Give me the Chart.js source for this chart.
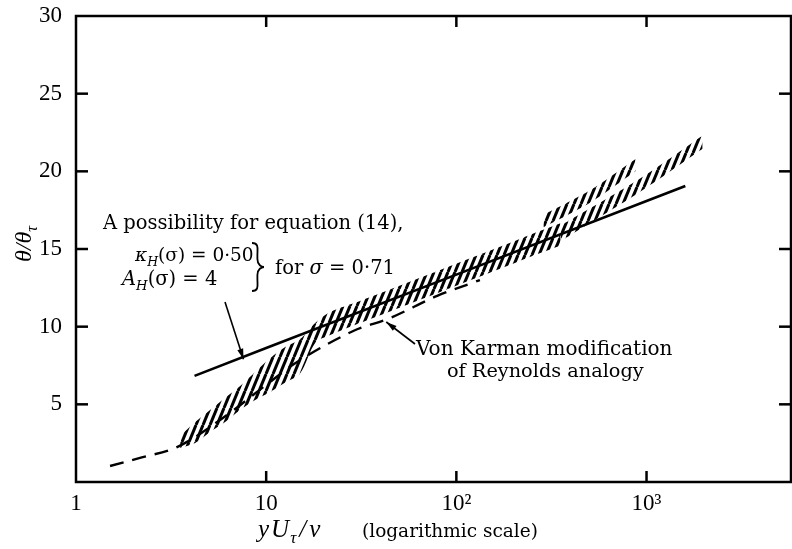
<!DOCTYPE html>
<html><head><meta charset="utf-8">
<script src="https://cdn.jsdelivr.net/npm/chart.js@4/dist/chart.umd.min.js"></script>
<style>html,body{margin:0;padding:0;background:#fff}#wrap{width:792px;height:549px}</style>
</head><body><div id="wrap"><canvas id="c" width="792" height="549"></canvas></div>
<script>
// ---------- data ----------
const xTicks = [1, 10, 100, 1000];
const xTickLabels = ['1', '10', '10²', '10³'];
const yTicks = [5, 10, 15, 20, 25, 30];

// solid line: "A possibility for equation (14)"
const solidX = [4.2, 10, 100, 1000, 1600];
const solidY = [6.83, 8.63, 13.35, 18.09, 19.06];

// dashed line: Von Karman modification of Reynolds analogy
const vkX = [1.51, 2.17, 3.4, 5.72, 10, 15.1, 28.7, 44.9, 79.3, 133];
const vkY = [1.03, 1.55, 2.25, 3.99, 6.25, 7.86, 9.72, 10.56, 11.98, 13.0];

// hatched band of experimental data (main part)
const bandX  = [3.53, 4.23, 5.07, 6.08, 7.30, 8.75, 10.5, 12.6, 15.1, 18.1, 21.7, 31.2, 50.7, 93, 171, 245, 353];
const bandLo = [2.19, 2.51, 3.22, 3.86, 4.64, 5.28, 5.80, 6.40, 7.00, 8.95, 9.47, 10.24, 11.24, 12.49, 13.74, 14.5, 15.23];
const bandHi = [2.96, 3.86, 4.64, 5.41, 6.18, 7.08, 7.98, 8.69, 9.20, 10.24, 10.95, 11.66, 12.65, 13.91, 15.16, 15.92, 16.65];
// upper branch
const upX  = [287, 507, 876];
const upLo = [16.4, 18.0, 20.0];
const upHi = [17.2, 18.8, 20.8];
// lower branch
const lowX  = [353, 930, 1972];
const lowLo = [15.5, 18.7, 21.45];
const lowHi = [16.5, 19.55, 22.3];

// ---------- helpers ----------
const pts = (xs, ys) => xs.map((x, i) => ({x, y: ys[i]}));
const hatch = (() => {
  const c = document.createElement('canvas'); c.width = 7; c.height = 17;
  const g = c.getContext('2d'); g.strokeStyle = '#000'; g.lineWidth = 3;
  for (const o of [-7, 0, 7]) { g.beginPath(); g.moveTo(o, 17); g.lineTo(o + 7, 0); g.stroke(); }
  return g.createPattern(c, 'repeat');
})();
const TICKF = '"Liberation Serif", serif';
const TEXTF = '"DejaVu Serif", "Liberation Serif", serif';
const edge = (d) => Object.assign({showLine: true, borderWidth: 0, borderColor: 'transparent', pointRadius: 0, tension: 0.3}, d);

function runs(ctx, x, y, parts, size, fam) {
  let cx = x;
  for (const p of parts) {
    const s = p.sub ? size * 0.68 : size;
    ctx.font = (p.it ? 'italic ' : '') + s + 'px ' + (fam || TEXTF);
    ctx.fillText(p.t, cx, y + (p.sub ? size * 0.25 : 0));
    cx += ctx.measureText(p.t).width + (p.gap || 0);
  }
  return cx;
}
function arrow(ctx, x0, y0, x1, y1) {
  ctx.beginPath(); ctx.moveTo(x0, y0); ctx.lineTo(x1, y1); ctx.lineWidth = 1.6; ctx.stroke();
  const a = Math.atan2(y1 - y0, x1 - x0), L = 11, w = 0.28;
  ctx.beginPath(); ctx.moveTo(x1, y1);
  ctx.lineTo(x1 - L * Math.cos(a - w), y1 - L * Math.sin(a - w));
  ctx.lineTo(x1 - L * Math.cos(a + w), y1 - L * Math.sin(a + w));
  ctx.closePath(); ctx.fill();
}
function brace(ctx, x, top, bot, w) {
  const m = (top + bot) / 2;
  ctx.beginPath();
  ctx.moveTo(x, top);
  ctx.bezierCurveTo(x + w * 0.6, top, x + w * 0.45, top + 6, x + w * 0.45, top + 12);
  ctx.lineTo(x + w * 0.45, m - 8);
  ctx.bezierCurveTo(x + w * 0.45, m - 2, x + w * 0.8, m, x + w, m);
  ctx.bezierCurveTo(x + w * 0.8, m, x + w * 0.45, m + 2, x + w * 0.45, m + 8);
  ctx.lineTo(x + w * 0.45, bot - 12);
  ctx.bezierCurveTo(x + w * 0.45, bot - 6, x + w * 0.6, bot, x, bot);
  ctx.lineWidth = 1.8; ctx.stroke();
}

const decor = {
  id: 'decor',
  afterDraw(chart) {
    const {ctx, chartArea: a, scales: {x, y}} = chart;
    ctx.save();
    ctx.strokeStyle = '#000'; ctx.fillStyle = '#000';
    // frame
    ctx.lineWidth = 2.5;
    ctx.strokeRect(a.left, a.top, a.right - a.left, a.bottom - a.top);
    // inward ticks
    for (const v of yTicks) {
      if (v >= 30) continue;
      const py = y.getPixelForValue(v);
      ctx.beginPath(); ctx.moveTo(a.left, py); ctx.lineTo(a.left + 12, py); ctx.stroke();
      ctx.beginPath(); ctx.moveTo(a.right, py); ctx.lineTo(a.right - 12, py); ctx.stroke();
    }
    for (const v of xTicks) {
      if (v <= 1) continue;
      const px = x.getPixelForValue(v);
      ctx.beginPath(); ctx.moveTo(px, a.bottom); ctx.lineTo(px, a.bottom - 11); ctx.stroke();
      ctx.beginPath(); ctx.moveTo(px, a.top); ctx.lineTo(px, a.top + 11); ctx.stroke();
    }
    // axis titles
    ctx.textBaseline = 'alphabetic'; ctx.textAlign = 'left';
    ctx.save(); ctx.translate(31, 262); ctx.rotate(-Math.PI / 2);
    runs(ctx, 0, 0, [{t: 'θ/θ', it: true}, {t: 'τ', it: true, sub: true}], 24, TICKF);
    ctx.restore();
    runs(ctx, 258, 537, [{t: 'y', it: true, gap: 2}, {t: 'U', it: true, gap: 1}, {t: 'τ', it: true, sub: true, gap: 3}, {t: '/', it: true, gap: 3}, {t: 'ν', it: true}], 25, TICKF);
    runs(ctx, 362, 537, [{t: '(logarithmic scale)'}], 18.5);
    // annotation 1
    runs(ctx, 103, 229, [{t: 'A possibility for equation (14),'}], 19.5);
    runs(ctx, 135, 261, [{t: 'κ', it: true}, {t: 'H', it: true, sub: true}, {t: '(σ) = 0·50'}], 18.5);
    runs(ctx, 122, 285, [{t: 'A', it: true}, {t: 'H', it: true, sub: true}, {t: '(σ) = 4'}], 19.5);
    brace(ctx, 252, 243, 291, 12);
    runs(ctx, 275, 274, [{t: 'for '}, {t: 'σ', it: true}, {t: ' = 0·71'}], 19.5);
    arrow(ctx, 225, 302, x.getPixelForValue(7.6), y.getPixelForValue(7.9));
    // annotation 2
    runs(ctx, 416, 355, [{t: 'Von Karman modification'}], 20);
    runs(ctx, 447, 377, [{t: 'of Reynolds analogy'}], 19.3);
    arrow(ctx, 415, 344, x.getPixelForValue(42.8), y.getPixelForValue(10.3));
    ctx.restore();
  }
};

new Chart(document.getElementById('c'), {
  type: 'scatter',
  data: {datasets: [
    edge({data: pts(bandX, bandLo), fill: false}),
    edge({data: pts(bandX, bandHi), fill: '-1', backgroundColor: hatch}),
    edge({data: pts(upX, upLo), fill: false}),
    edge({data: pts(upX, upHi), fill: '-1', backgroundColor: hatch}),
    edge({data: pts(lowX, lowLo), fill: false}),
    edge({data: pts(lowX, lowHi), fill: '-1', backgroundColor: hatch}),
    {data: pts(solidX, solidY), showLine: true, borderColor: '#000', borderWidth: 2.6, pointRadius: 0, fill: false},
    {data: pts(vkX, vkY), showLine: true, borderColor: '#000', borderWidth: 2.4, borderDash: [14, 9], pointRadius: 0, tension: 0.35, fill: false}
  ]},
  options: {
    responsive: false, animation: false, devicePixelRatio: 1,
    layout: {padding: {top: 16, right: 1, left: 0, bottom: 0}, autoPadding: false},
    plugins: {legend: {display: false}, tooltip: {enabled: false}},
    scales: {
      x: {type: 'logarithmic', min: 1, max: 5750,
        grid: {display: false}, border: {display: false},
        afterBuildTicks: s => { s.ticks = xTicks.map(v => ({value: v})); },
        afterFit: s => { s.height = 67; s.paddingLeft = 0; s.paddingRight = 0; },
        ticks: {color: '#000', font: {family: TICKF, size: 23}, padding: 0, maxRotation: 0, autoSkip: false,
          callback: (v, i) => xTickLabels[i]}},
      y: {min: 0, max: 30,
        grid: {display: false}, border: {display: false},
        afterBuildTicks: s => { s.ticks = yTicks.map(v => ({value: v})); },
        afterFit: s => { s.width = 76; s.paddingTop = 0; s.paddingBottom = 0; },
        ticks: {color: '#000', font: {family: TICKF, size: 23}, padding: 6}}
    }
  },
  plugins: [decor]
});
</script></body></html>
